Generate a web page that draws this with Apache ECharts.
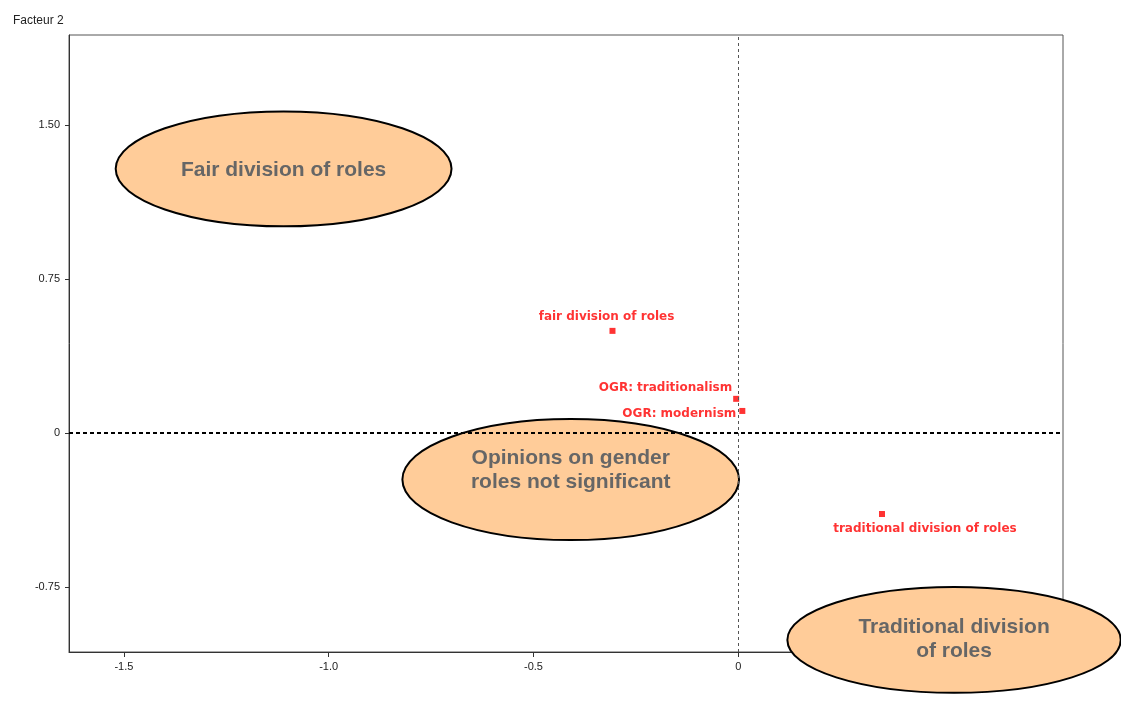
<!DOCTYPE html>
<html>
<head>
<meta charset="utf-8">
<script src="https://cdn.jsdelivr.net/npm/echarts@6/dist/echarts.min.js"></script>
<style>
  html, body { margin: 0; padding: 0; background: #fff; }
  #chart { width: 1121px; height: 702px; }
</style>
</head>
<body>
<div id="chart"></div>
<script>
// tick labels
const xTicks = [-1.5, -1.0, -0.5, 0, 0.5];
const yTicks = [-0.75, 0, 0.75, 1.5];

// modalities (factor 1, factor 2)
const pointNames = ['fair division of roles', 'OGR: traditionalism', 'OGR: modernism', 'traditional division of roles'];
const pointX = [-0.307, -0.005, 0.010, 0.351];
const pointY = [0.497, 0.166, 0.107, -0.395];

// interpretation zones (ellipses): centre and half-axes in factor units
const zoneNames = ['Fair division of roles', 'Opinions on gender\nroles not significant', 'Traditional division\nof roles'];
const zoneX = [-1.110, -0.409, 0.527];
const zoneY = [1.286, -0.227, -1.008];
const zoneRX = [0.410, 0.411, 0.407];
const zoneRY = [0.280, 0.295, 0.258];

const chart = echarts.init(document.getElementById('chart'));

// label placement for each point
const labelPos = [
    { position: 'top', distance: 5, offset: [-6, 0] },
    { position: 'left', distance: 1, offset: [0, -11] },
    { position: 'left', distance: 3, offset: [0, 3] },
    { position: 'bottom', distance: 6, offset: [43, 0] }
];
// vertical nudge of the text inside each ellipse (px)
const zoneTextShift = [1, -9, -1];

const points = pointNames.map((n, i) => ({
    name: n,
    value: [pointX[i], pointY[i]],
    label: labelPos[i]
}));

const zones = zoneNames.map((n, i) => ({
    name: n,
    value: [zoneX[i], zoneY[i], zoneRX[i], zoneRY[i]]
}));

const axisFont = { fontFamily: 'Liberation Sans, Arial', fontSize: 11, color: '#222' };

const option = {
    backgroundColor: '#fff',
    animation: false,
    title: {
        text: 'Facteur 2',
        left: 8,
        top: 10,
        textStyle: { fontFamily: 'Liberation Sans, Arial', fontSize: 12, fontWeight: 'normal', color: '#222' }
    },
    grid: {
        left: 69, top: 35, right: 58, bottom: 50,
        show: true,
        borderColor: '#555',
        borderWidth: 1,
        backgroundColor: 'transparent'
    },
    xAxis: {
        type: 'value',
        min: -1.634,
        max: 0.793,
        axisLine: { onZero: false, lineStyle: { color: '#333' } },
        axisTick: { show: true, customValues: xTicks, length: 5, lineStyle: { color: '#333' } },
        axisLabel: Object.assign({
            customValues: xTicks,
            margin: 9,
            formatter: v => v === 0 ? '0' : v.toFixed(1)
        }, axisFont),
        splitLine: { show: false }
    },
    yAxis: {
        type: 'value',
        min: -1.067,
        max: 1.938,
        axisLine: { onZero: false, lineStyle: { color: '#333' } },
        axisTick: { show: true, customValues: yTicks, length: 4, lineStyle: { color: '#333' } },
        axisLabel: Object.assign({
            customValues: yTicks,
            margin: 9,
            formatter: v => v === 0 ? '0' : v.toFixed(2)
        }, axisFont),
        splitLine: { show: false }
    },
    series: [
        {
            type: 'scatter',
            z: 2,
            symbol: 'rect',
            symbolSize: 6,
            itemStyle: { color: '#ff0000' },
            label: {
                show: true,
                formatter: '{b}',
                color: '#ff0000',
                fontFamily: 'DejaVu Sans',
                fontWeight: 'bold',
                fontSize: 12
            },
            data: points,
            markLine: {
                silent: true,
                symbol: 'none',
                label: { show: false },
                data: [
                    { xAxis: 0, lineStyle: { color: '#555', width: 1, type: [3, 3] } },
                    { yAxis: 0, lineStyle: { color: '#000', width: 2, type: [4, 3] } }
                ]
            }
        },
        {
            type: 'custom',
            z: 3,
            clip: false,
            encode: { x: 0, y: 1 },
            data: zones,
            renderItem: function (params, api) {
                const c = api.coord([api.value(0), api.value(1)]);
                const s = api.size([api.value(2), api.value(3)]);
                return {
                    type: 'group',
                    children: [
                        {
                            type: 'ellipse',
                            shape: { cx: c[0], cy: c[1], rx: s[0], ry: s[1] },
                            style: { fill: '#FFCC99', stroke: '#000', lineWidth: 2 }
                        },
                        {
                            type: 'text',
                            x: c[0],
                            y: c[1] + zoneTextShift[params.dataIndex],
                            style: {
                                text: zoneNames[params.dataIndex],
                                fill: '#666',
                                font: 'bold 21px "Liberation Sans", Arial',
                                align: 'center',
                                verticalAlign: 'middle',
                                lineHeight: 24
                            }
                        }
                    ]
                };
            }
        }
    ]
};

chart.setOption(option);
</script>
</body>
</html>
